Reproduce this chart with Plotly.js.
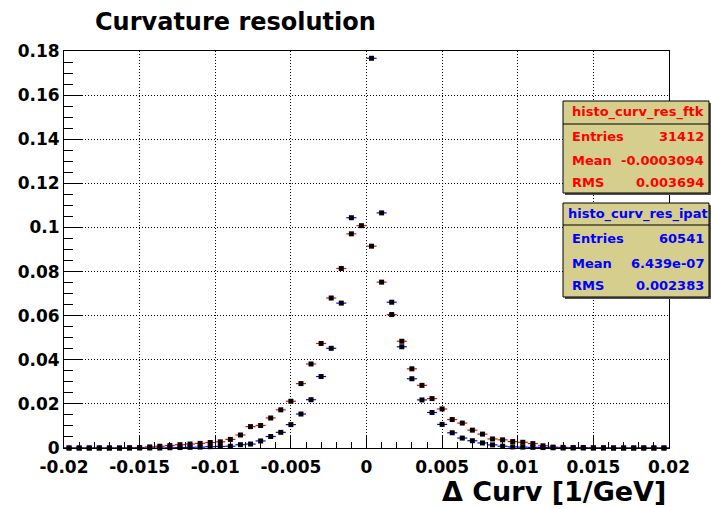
<!DOCTYPE html>
<html>
<head>
<meta charset="utf-8">
<script src="https://cdn.plot.ly/plotly-3.0.1.min.js"></script>
<style>html,body{margin:0;padding:0;background:#fff;}#chart{width:711px;height:509px;}</style>
</head>
<body>
<div id="chart"></div>
<script>
// ---- data (normalised histograms, 60 bins over [-0.02, 0.02]) ----
const binLow = -0.02;
const binHigh = 0.02;
const nBins = 60;
const ftkValues = [
  0, 0, 0, 0, 0, 0, 0.0001, 0.0002, 0.0005, 0.0008,
  0.0011, 0.0015, 0.0018, 0.0021, 0.0025, 0.0028, 0.0039, 0.0059, 0.0097, 0.0102,
  0.0136, 0.0173, 0.0212, 0.0292, 0.0381, 0.0474, 0.0680, 0.0814, 0.0971, 0.1008,
  0.0915, 0.0752, 0.0605, 0.0484, 0.0359, 0.0284, 0.0224, 0.0177, 0.0129, 0.0113,
  0.0081, 0.0063, 0.0041, 0.0037, 0.0029, 0.0026, 0.0020, 0.0010, 0.0004, 0.0003,
  0.0002, 0.0002, 0.0001, 0.0001, 0, 0, 0, 0, 0, 0
];
const ipatValues = [
  0, 0, 0, 0, 0, 0, 0, 0, 0, 0,
  0.0001, 0.0002, 0.0003, 0.0004, 0.0006, 0.0007, 0.0008, 0.0015, 0.0018, 0.0032,
  0.0052, 0.0071, 0.0106, 0.0154, 0.0219, 0.0324, 0.0452, 0.0657, 0.1044, 0.186,
  0.1767, 0.1066, 0.0661, 0.0459, 0.0314, 0.0218, 0.0161, 0.0107, 0.0069, 0.0045,
  0.0033, 0.0023, 0.0014, 0.0008, 0.0005, 0.0004, 0.0003, 0.0002, 0.0001, 0,
  0, 0, 0, 0, 0, 0, 0, 0, 0, 0
];
const xTickVals = [-0.02, -0.015, -0.01, -0.005, 0, 0.005, 0.01, 0.015, 0.02];
const xTickText = ["-0.02", "-0.015", "-0.01", "-0.005", "0", "0.005", "0.01", "0.015", "0.02"];
const yTickVals = [0, 0.02, 0.04, 0.06, 0.08, 0.1, 0.12, 0.14, 0.16, 0.18];
const yTickText = ["0", "0.02", "0.04", "0.06", "0.08", "0.1", "0.12", "0.14", "0.16", "0.18"];
const yMax = 0.18;
const stats = [
  {name: "histo_curv_res_ftk", entries: "31412", mean: "-0.0003094", rms: "0.003694"},
  {name: "histo_curv_res_ipat", entries: "60541", mean: "6.439e-07", rms: "0.002383"}
];

// ---- geometry ----
const binW = (binHigh - binLow) / nBins;
const centers = ftkValues.map((_, i) => binLow + (i + 0.5) * binW);
const visible = arr => arr.map(v => (v > yMax ? null : v)); // ROOT does not draw off-scale points

const W = 711, H = 509, L = 64, R = 669, T = 51, B = 448;
const xp = px => (px - L) / (R - L);
const yp = py => (B - py) / (B - T);
const FONT = "DejaVu Sans";

function trace(vals, col) {
  return {
    type: "scatter", mode: "markers", x: centers, y: visible(vals),
    marker: {symbol: "square", size: 5, color: "black"},
    error_x: {type: "constant", value: binW / 2, color: col, thickness: 1.2, width: 0},
    cliponaxis: false, hoverinfo: "skip", showlegend: false
  };
}
const data = [trace(ftkValues, "#ff0000"), trace(ipatValues, "#0000ff")];

const shapes = [], annotations = [];
const boxes = [
  {y0: 101, y1: 193, sep: 124, ty: 112, rows: [136, 160, 182], col: "#ff0000"},
  {y0: 203, y1: 297, sep: 225, ty: 214, rows: [239, 263, 285], col: "#0000ff"}
];
const bx0 = 563, bx1 = 709;
boxes.forEach((b, k) => {
  const s = stats[k];
  shapes.push({type: "rect", xref: "paper", yref: "paper", x0: xp(bx0 + 2), x1: xp(bx1 + 2), y0: yp(b.y1 + 2), y1: yp(b.y0 + 2),
    fillcolor: "#555555", line: {width: 0}, layer: "above"});
  shapes.push({type: "rect", xref: "paper", yref: "paper", x0: xp(bx0), x1: xp(bx1), y0: yp(b.y1), y1: yp(b.y0),
    fillcolor: "rgb(213,206,140)", line: {color: "black", width: 1}, layer: "above"});
  shapes.push({type: "line", xref: "paper", yref: "paper", x0: xp(bx0), x1: xp(bx1), y0: yp(b.sep), y1: yp(b.sep),
    line: {color: "black", width: 1}, layer: "above"});
  const f = {family: FONT, size: 13, color: b.col, weight: "bold"};
  annotations.push({xref: "paper", yref: "paper", x: xp((bx0 + bx1) / 2 + 2), y: yp(b.ty), text: s.name,
    showarrow: false, xanchor: "center", yanchor: "middle", font: f});
  const labels = ["Entries", "Mean", "RMS"], vals = [s.entries, s.mean, s.rms];
  b.rows.forEach((ry, j) => {
    annotations.push({xref: "paper", yref: "paper", x: xp(570), y: yp(ry), text: labels[j],
      showarrow: false, xanchor: "left", yanchor: "middle", font: f});
    annotations.push({xref: "paper", yref: "paper", x: xp(706), y: yp(ry), text: vals[j],
      showarrow: false, xanchor: "right", yanchor: "middle", font: f});
  });
});
annotations.push({xref: "paper", yref: "paper", x: xp(668), y: yp(491), text: "Δ Curv [1/GeV]",
  showarrow: false, xanchor: "right", yanchor: "middle",
  font: {family: FONT, size: 27, color: "black", weight: "bold"}});

const tickFont = {family: FONT, size: 17, color: "black", weight: "bold"};
const layout = {
  width: W, height: H,
  margin: {l: L, r: W - R, t: T, b: H - B, pad: 0},
  paper_bgcolor: "white", plot_bgcolor: "white",
  title: {text: "Curvature resolution", x: 95 / W, xanchor: "left", xref: "container",
    y: 1 - 22 / H, yanchor: "middle", yref: "container",
    font: {family: FONT, size: 24, color: "black", weight: "bold"}},
  xaxis: {
    range: [binLow, binHigh], tickmode: "array", tickvals: xTickVals, ticktext: xTickText,
    ticks: "inside", ticklen: 12, tickcolor: "black", tickwidth: 1, ticklabelstandoff: 4,
    minor: {tickmode: "linear", tick0: 0, dtick: 0.001, ticks: "inside", ticklen: 6, tickcolor: "black", showgrid: false},
    showgrid: true, gridcolor: "black", griddash: "1px,2px", gridwidth: 1,
    zeroline: false, showline: true, linecolor: "black", linewidth: 1, mirror: true,
    tickfont: tickFont, fixedrange: true
  },
  yaxis: {
    range: [0, yMax], tickmode: "array", tickvals: yTickVals, ticktext: yTickText,
    ticks: "inside", ticklen: 18, tickcolor: "black", tickwidth: 1,
    minor: {tickmode: "linear", tick0: 0, dtick: 0.005, ticks: "inside", ticklen: 9, tickcolor: "black", showgrid: false},
    showgrid: true, gridcolor: "black", griddash: "1px,2px", gridwidth: 1,
    zeroline: false, showline: true, linecolor: "black", linewidth: 1, mirror: true,
    tickfont: tickFont, fixedrange: true
  },
  shapes: shapes, annotations: annotations
};
Plotly.newPlot("chart", data, layout, {displayModeBar: false, staticPlot: true});
</script>
</body>
</html>
